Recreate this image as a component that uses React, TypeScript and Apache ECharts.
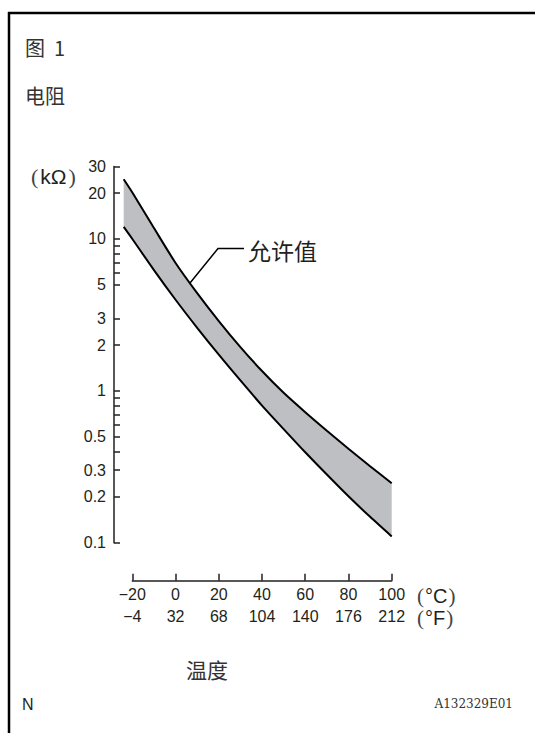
import React, { useEffect, useRef } from 'react';
import * as echarts from 'echarts';

// Temperature (°C) at which the tolerance band was read
const temperaturesC = [-24, -20, -10, 0, 10, 20, 30, 40, 50, 60, 70, 80, 90, 100];
// Upper limit of allowed resistance (kΩ)
const upperKOhm = [24.7, 20.2, 11.8, 6.95, 4.4, 2.88, 1.94, 1.35, 0.97, 0.723, 0.546, 0.416, 0.319, 0.246];
// Lower limit of allowed resistance (kΩ)
const lowerKOhm = [12.0, 10.0, 6.24, 3.98, 2.6, 1.73, 1.17, 0.8, 0.56, 0.394, 0.281, 0.202, 0.148, 0.11];

// Axis ticks / labels
const yLabelValues = [0.1, 0.2, 0.3, 0.5, 1, 2, 3, 5, 10, 20, 30];
const yTickValues = [0.1, 0.2, 0.3, 0.4, 0.5, 0.6, 0.7, 0.8, 0.9, 1, 2, 3, 5, 6, 7, 8, 9, 10, 20, 30];
const celsiusTicks = [-20, 0, 20, 40, 60, 80, 100];
const fahrenheitLabels = ['-4', '32', '68', '104', '140', '176', '212'];

export default function App() {
  const ref = useRef<HTMLDivElement>(null);

  useEffect(() => {
    const chart = echarts.init(ref.current as HTMLDivElement, null, { renderer: 'svg' });
    const sans = '"Liberation Sans", Arial, sans-serif';
    const cjk = '"Noto Sans CJK SC", sans-serif';
    const ink = '#231f20';
    const minus = (s: string) => s.replace('-', '\u2212');

    const bandData = temperaturesC.map((t, i) => [t, lowerKOhm[i], upperKOhm[i]]);
    const lowerData = temperaturesC.map((t, i) => [t, lowerKOhm[i]]);
    const upperData = temperaturesC.map((t, i) => [t, upperKOhm[i]]);

    const unitRich = {
      p: { fontSize: 21, lineHeight: 19, fontFamily: '"Liberation Serif", serif', fill: '#444', padding: [0, 1, 0, 1] },
      s: { fontSize: 20, lineHeight: 19, fontFamily: sans, fill: ink },
    };

    const option = {
      animation: false,
      backgroundColor: '#ffffff',
      grid: [
        { left: 123.7, right: 143.3, top: 166.5, bottom: 190.3, containLabel: false },
        { left: 132.3, right: 143.3, top: 560, bottom: 152.3, containLabel: false },
      ],
      xAxis: [
        {
          type: 'value',
          gridIndex: 0,
          min: -24,
          max: 100,
          show: false,
          axisLine: { onZero: false },
        },
        {
          type: 'value',
          gridIndex: 1,
          min: -20,
          max: 100,
          interval: 20,
          position: 'bottom',
          splitLine: { show: false },
          axisLine: { show: true, onZero: false, lineStyle: { color: ink, width: 1.5 } },
          axisTick: { show: true, inside: true, length: 7, lineStyle: { color: ink, width: 1.5 } },
          axisLabel: {
            show: true,
            margin: 6,
            color: ink,
            fontSize: 16,
            fontFamily: sans,
            customValues: celsiusTicks,
            formatter: (v: number) => minus(String(v)),
          },
        },
        {
          type: 'value',
          gridIndex: 1,
          min: -20,
          max: 100,
          interval: 20,
          offset: 22,
          position: 'bottom',
          splitLine: { show: false },
          axisLine: { show: false, onZero: false },
          axisTick: { show: false },
          axisLabel: {
            show: true,
            margin: 6,
            color: ink,
            fontSize: 16,
            fontFamily: sans,
            customValues: celsiusTicks,
            formatter: (v: number) => {
              const idx = celsiusTicks.indexOf(Math.round(v));
              return idx >= 0 ? minus(fahrenheitLabels[idx]) : '';
            },
          },
        },
      ],
      yAxis: [
        {
          type: 'log',
          gridIndex: 0,
          logBase: 10,
          min: 0.1,
          max: 30,
          offset: 9.7,
          splitLine: { show: false },
          minorTick: { show: false },
          axisLine: { show: true, onZero: false, lineStyle: { color: ink, width: 1.5 } },
          axisTick: {
            show: true,
            inside: true,
            length: 6,
            customValues: yTickValues,
            lineStyle: { color: ink, width: 1.5 },
          },
          axisLabel: {
            show: true,
            margin: 8,
            color: ink,
            fontSize: 16,
            fontFamily: sans,
            customValues: yLabelValues,
            formatter: (v: number) => String(Number(v.toPrecision(3))),
          },
        },
        {
          type: 'value',
          gridIndex: 1,
          min: 0,
          max: 1,
          show: false,
          axisLine: { onZero: false },
        },
      ],
      series: [
        {
          type: 'custom',
          name: 'band',
          xAxisIndex: 0,
          yAxisIndex: 0,
          data: bandData,
          encode: { x: 0, y: [1, 2] },
          z: 1,
          renderItem: (params: any, api: any) => {
            if (params.dataIndex !== 0) return null;
            const n = temperaturesC.length;
            const top: number[][] = [];
            const bottom: number[][] = [];
            for (let j = 0; j < n; j++) {
              top.push(api.coord([api.value(0, j), api.value(2, j)]));
              bottom.push(api.coord([api.value(0, j), api.value(1, j)]));
            }
            return {
              type: 'polygon',
              shape: { points: top.concat(bottom.reverse()) },
              style: { fill: '#bdbfc3', stroke: null },
            };
          },
        },
        {
          type: 'line',
          name: 'lower',
          xAxisIndex: 0,
          yAxisIndex: 0,
          data: lowerData,
          clip: false,
          smooth: 0.25,
          symbol: 'none',
          lineStyle: { color: '#000', width: 2 },
          z: 3,
        },
        {
          type: 'line',
          name: 'upper',
          xAxisIndex: 0,
          yAxisIndex: 0,
          data: upperData,
          clip: false,
          smooth: 0.25,
          symbol: 'none',
          lineStyle: { color: '#000', width: 2 },
          z: 3,
        },
      ],
      graphic: [
        { type: 'line', shape: { x1: 8, y1: 13, x2: 535, y2: 13 }, style: { stroke: '#000', lineWidth: 2.5 } },
        { type: 'line', shape: { x1: 9, y1: 12, x2: 9, y2: 733 }, style: { stroke: '#000', lineWidth: 2.5 } },
        {
          type: 'text', x: 25, y: 47,
          style: { text: '图  1', fontSize: 20, fontFamily: cjk, fill: '#333', verticalAlign: 'middle' },
        },
        {
          type: 'text', x: 25, y: 95,
          style: { text: '电阻', fontSize: 20, fontFamily: cjk, fill: '#333', verticalAlign: 'middle' },
        },
        {
          type: 'text', x: 29, y: 176,
          style: {
            text: '{p|(}{s|kΩ}{p|)}',
            verticalAlign: 'middle',
            rich: {
              p: { fontSize: 22, fontFamily: '"Liberation Serif", serif', fill: '#444', padding: [0, 2, 0, 2] },
              s: { fontSize: 21, fontFamily: sans, fill: ink },
            },
          },
        },
        {
          type: 'polyline',
          shape: { points: [[244, 248.5], [218, 248.5], [190, 283]] },
          style: { stroke: '#000', lineWidth: 1.5, fill: null },
        },
        {
          type: 'text', x: 248, y: 250,
          style: { text: '允许值', fontSize: 23, fontFamily: cjk, fill: ink, verticalAlign: 'middle' },
        },
        {
          type: 'text', x: 416, y: 596,
          style: { text: '{p|(}{s|°C}{p|)}', verticalAlign: 'middle', rich: unitRich },
        },
        {
          type: 'text', x: 416, y: 618,
          style: { text: '{p|(}{s|°F}{p|)}', verticalAlign: 'middle', rich: unitRich },
        },
        {
          type: 'text', x: 186, y: 669,
          style: { text: '温度', fontSize: 21, fontFamily: cjk, fill: '#333', verticalAlign: 'middle' },
        },
        {
          type: 'text', x: 22, y: 704,
          style: { text: 'N', fontSize: 16, fontFamily: sans, fill: ink, verticalAlign: 'middle' },
        },
        {
          type: 'text', x: 513, y: 704,
          style: {
            text: 'A132329E01', fontSize: 12, fontFamily: '"DejaVu Serif", serif', fill: '#333',
            align: 'right', verticalAlign: 'middle',
          },
        },
      ],
    };

    chart.setOption(option as any);
    return () => chart.dispose();
  }, []);

  return (
    <div
      ref={ref}
      style={{ position: 'absolute', left: 0, top: 0, width: 535, height: 733, background: '#fff' }}
    />
  );
}
